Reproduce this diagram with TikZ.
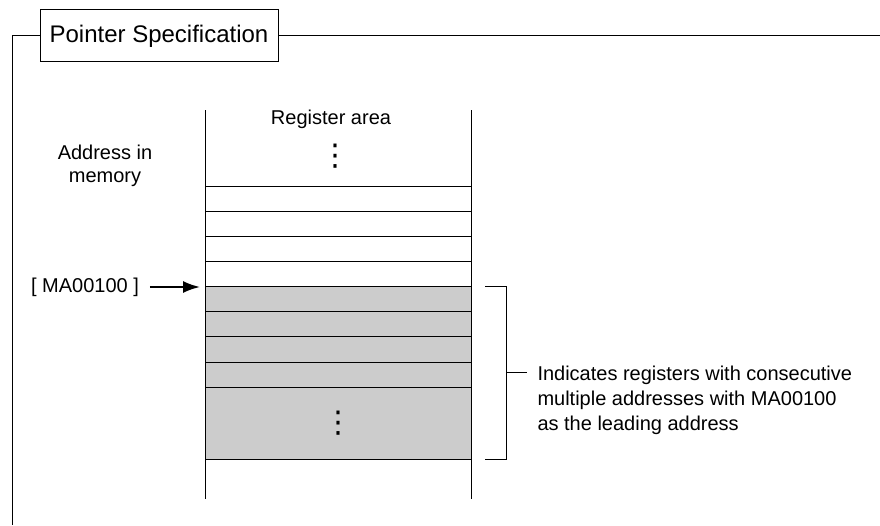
\documentclass[tikz,border=0pt]{standalone}
\usepackage{fontspec}
\setmainfont{Liberation Sans}
\newfontfamily\dotfont{DejaVu Sans}
\usetikzlibrary{arrows.meta}
\definecolor{regfill}{gray}{0.8}
\newcommand{\bodyfont}{\fontsize{20}{25}\selectfont}
\newcommand{\titlefont}{\fontsize{24}{28}\selectfont}

\begin{document}
\begin{tikzpicture}[x=1pt, y=1pt, node distance=25pt, line width=1pt, font=\bodyfont,
    reg/.style={draw, minimum width=266pt, minimum height=25pt, inner sep=0pt, outer sep=0pt},
    used/.style={reg, fill=regfill},
    vdots/.style={inner sep=0pt, font=\dotfont\fontsize{30}{30}\selectfont}]
        \useasboundingbox (0,0) rectangle (880,525);

        % Title Frame
        \node[draw, minimum width=238pt, minimum height=52pt, font=\titlefont] (title) at (159,489) {Pointer Specification};
        \draw (title.west) -- (12,489) -- (12,0);
        \draw (title.east) -- (880,489);

        % Register Rows (Free)
        \node[reg] (r1) at (338,325.5) {};
        \node[reg] (r2) [below of=r1] {};
        \node[reg] (r3) [below of=r2] {};
        \node[reg] (r4) [below of=r3] {};

        % Register Rows (Pointed)
        \node[used] (r5) [below of=r4] {};
        \node[used] (r6) [below of=r5] {};
        \node[used] (r7) [below of=r6] {};
        \node[used] (r8) [below of=r7] {};
        \node[used, minimum height=72pt] (r9) [below of=r8, node distance=48.5pt] {};

        % Area Walls
        \draw (r1.north west) -- ++(0,77);
        \draw (r1.north east) -- ++(0,77);
        \draw (r9.south west) -- ++(0,-40);
        \draw (r9.south east) -- ++(0,-40);

        % Labels
        \node (area) at (331,406) {Register area};
        \node[align=center, font=\fontsize{20}{23}\selectfont] (mem) at (105,359) {Address in\\memory};
        \node (addr) at (85,238) {[ MA00100 ]};

        % Ellipsis Dots
        \node[vdots] (dtop) at (335,369) {⋮};
        \node[vdots] (dbot) at (r9.center) {⋮};

        % Pointer Arrow
        \draw[-{Latex[length=17pt, width=12pt]}, line width=2pt, shorten <=7pt, shorten >=5pt] (addr.east) -- (addr.east -| r5.west);

        % Bracket
        \draw ([xshift=14pt]r5.north east) -- ++(21,0) -- ([xshift=35pt]r9.south east) -- ++(-21,0);
        \coordinate (brk) at (506,153);
        \node[anchor=west, align=left, inner sep=0pt] (note) at (537,125) {Indicates registers with consecutive\\multiple addresses with MA00100\\as the leading address};
        \draw[shorten >=10pt] (brk) -- (note.west |- brk);
    \end{tikzpicture}
\end{document}
